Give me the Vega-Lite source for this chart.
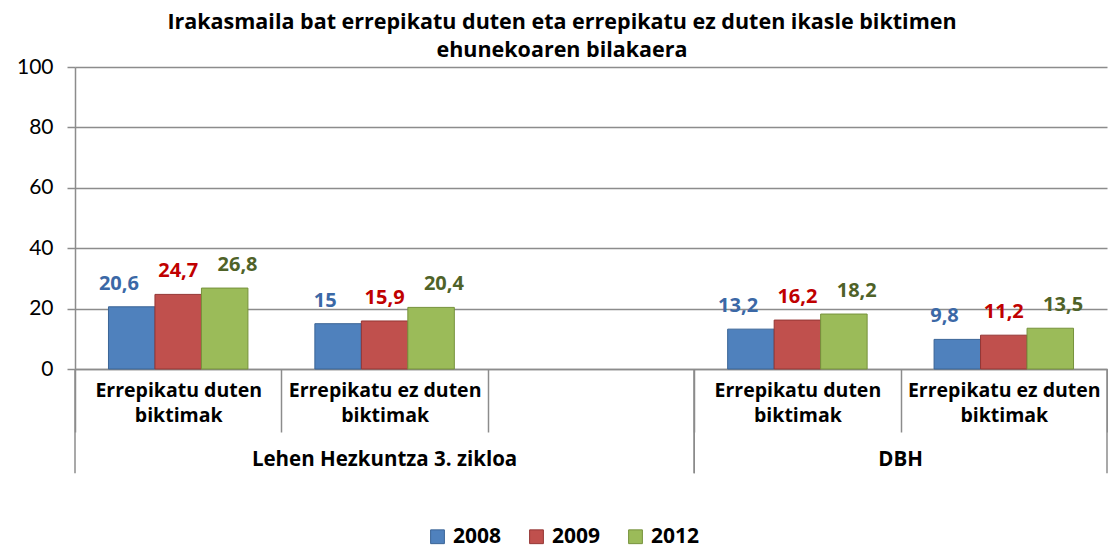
{
  "$schema": "https://vega.github.io/schema/vega-lite/v6.json",
  "autosize": {"type": "none"},
  "width": 1032,
  "height": 302,
  "padding": {"left": 75, "top": 67, "right": 1, "bottom": 182},
  "background": "white",
  "config": {
    "view": {"stroke": null},
    "font": "Open Sans",
    "locale": {"number": {"decimal": ",", "thousands": ".", "grouping": [3], "currency": ["", " €"]}}
  },
  "title": {
    "text": ["Irakasmaila bat errepikatu duten eta errepikatu ez duten ikasle biktimen", "ehunekoaren bilakaera"],
    "font": "Open Sans",
    "fontSize": 21.5,
    "fontWeight": "bold",
    "color": "#000000",
    "anchor": "middle",
    "frame": "group",
    "dx": -29,
    "lineHeight": 28,
    "offset": -5
  },
  "datasets": {
    "bars": [
      {"group": "Lehen Hezkuntza 3. zikloa", "slot": "Lehen Hezkuntza 3. zikloa: Errepikatu duten biktimak", "year": "2008", "value": 20.6},
      {"group": "Lehen Hezkuntza 3. zikloa", "slot": "Lehen Hezkuntza 3. zikloa: Errepikatu duten biktimak", "year": "2009", "value": 24.7},
      {"group": "Lehen Hezkuntza 3. zikloa", "slot": "Lehen Hezkuntza 3. zikloa: Errepikatu duten biktimak", "year": "2012", "value": 26.8},
      {"group": "Lehen Hezkuntza 3. zikloa", "slot": "Lehen Hezkuntza 3. zikloa: Errepikatu ez duten biktimak", "year": "2008", "value": 15},
      {"group": "Lehen Hezkuntza 3. zikloa", "slot": "Lehen Hezkuntza 3. zikloa: Errepikatu ez duten biktimak", "year": "2009", "value": 15.9},
      {"group": "Lehen Hezkuntza 3. zikloa", "slot": "Lehen Hezkuntza 3. zikloa: Errepikatu ez duten biktimak", "year": "2012", "value": 20.4},
      {"group": "DBH", "slot": "DBH: Errepikatu duten biktimak", "year": "2008", "value": 13.2},
      {"group": "DBH", "slot": "DBH: Errepikatu duten biktimak", "year": "2009", "value": 16.2},
      {"group": "DBH", "slot": "DBH: Errepikatu duten biktimak", "year": "2012", "value": 18.2},
      {"group": "DBH", "slot": "DBH: Errepikatu ez duten biktimak", "year": "2008", "value": 9.8},
      {"group": "DBH", "slot": "DBH: Errepikatu ez duten biktimak", "year": "2009", "value": 11.2},
      {"group": "DBH", "slot": "DBH: Errepikatu ez duten biktimak", "year": "2012", "value": 13.5}
    ],
    "groups": [
      {"group": "Lehen Hezkuntza 3. zikloa", "start": 0, "end": 3},
      {"group": "DBH", "start": 3, "end": 5}
    ]
  },
  "layer": [
    {
      "data": {"name": "bars"},
      "resolve": {"scale": {"xOffset": "independent", "color": "independent"}},
      "layer": [
        {
          "mark": {"type": "bar", "strokeWidth": 1},
          "encoding": {
            "x": {
              "field": "slot",
              "type": "nominal",
              "scale": {
                "domain": [
                  "Lehen Hezkuntza 3. zikloa: Errepikatu duten biktimak",
                  "Lehen Hezkuntza 3. zikloa: Errepikatu ez duten biktimak",
                  "Lehen Hezkuntza 3. zikloa",
                  "DBH: Errepikatu duten biktimak",
                  "DBH: Errepikatu ez duten biktimak"
                ],
                "paddingInner": 0,
                "paddingOuter": 0
              },
              "axis": {
                "title": null,
                "labelAngle": 0,
                "labelExpr": "indexof(datum.label, ': ') < 0 ? '' : [slice(datum.label, indexof(datum.label, ': ') + 2, lastindexof(datum.label, ' ')), slice(datum.label, lastindexof(datum.label, ' ') + 1)]",
                "labelFont": "Open Sans",
                "labelFontSize": 19.5,
                "labelFontWeight": "bold",
                "labelColor": "#000000",
                "labelLineHeight": 25,
                "labelBaseline": "top",
                "labelLimit": 400,
                "labelPadding": -51,
                "tickBand": "extent",
                "tickSize": 63,
                "tickColor": "#8c8c8c",
                "tickWidth": 1.5,
                "domainColor": "#8c8c8c",
                "domainWidth": 1.5,
                "grid": false
              }
            },
            "xOffset": {
              "field": "year",
              "type": "nominal",
              "scale": {"paddingInner": 0, "paddingOuter": 0.72}
            },
            "y": {
              "field": "value",
              "type": "quantitative",
              "scale": {"domain": [0, 100], "nice": false},
              "axis": {
                "title": null,
                "values": [0, 20, 40, 60, 80, 100],
                "labelFont": "Lato",
                "labelFontSize": 21,
                "labelColor": "#000000",
                "labelPadding": 14,
                "tickSize": 8,
                "tickColor": "#8c8c8c",
                "tickWidth": 1.5,
                "domainColor": "#8c8c8c",
                "domainWidth": 1.5,
                "gridColor": "#8c8c8c",
                "gridWidth": 1.5
              }
            },
            "fill": {
              "field": "year",
              "type": "nominal",
              "scale": {"range": ["#4F81BD", "#C0504D", "#9BBB59"]},
              "legend": {
                "title": null,
                "orient": "none",
                "legendX": 352,
                "legendY": 459,
                "direction": "horizontal",
                "symbolType": "square",
                "symbolSize": 190,
                "symbolStrokeWidth": 1,
                "labelFont": "Open Sans",
                "labelFontSize": 21,
                "labelFontWeight": "bold",
                "labelColor": "#000000",
                "labelOffset": 5,
                "columnPadding": 24
              }
            },
            "stroke": {
              "field": "year",
              "type": "nominal",
              "scale": {"range": ["#3A6496", "#943634", "#76923C"]}
            }
          }
        },
        {
          "mark": {"type": "text", "fontSize": 20, "fontWeight": "bold", "font": "Open Sans", "baseline": "middle", "dy": -23},
          "encoding": {
            "x": {"field": "slot", "type": "nominal"},
            "xOffset": {
              "field": "year",
              "type": "nominal",
              "scale": {"padding": 0.74}
            },
            "y": {"field": "value", "type": "quantitative"},
            "text": {"field": "value", "type": "quantitative", "format": ".1~f"},
            "color": {
              "field": "year",
              "type": "nominal",
              "scale": {"range": ["#3B68A6", "#C00000", "#4F6228"]},
              "legend": null
            }
          }
        }
      ]
    },
    {
      "data": {"name": "groups"},
      "transform": [{"fold": ["start", "end"], "as": ["edge", "pos"]}],
      "layer": [
        {
          "mark": {"type": "rule", "color": "#8c8c8c", "strokeWidth": 1.5},
          "encoding": {
            "x": {"field": "pos", "type": "quantitative", "scale": {"domain": [0, 5], "nice": false, "zero": false}, "axis": null},
            "y": {"datum": 0},
            "y2": {"datum": -34.5}
          }
        },
        {
          "mark": {"type": "text", "fontSize": 20.5, "fontWeight": "bold", "font": "Open Sans", "color": "#000000", "baseline": "middle"},
          "encoding": {
            "x": {"aggregate": "mean", "field": "pos", "type": "quantitative"},
            "y": {"datum": -30},
            "text": {"field": "group", "type": "nominal"}
          }
        }
      ]
    }
  ],
  "resolve": {"scale": {"x": "independent"}}
}
